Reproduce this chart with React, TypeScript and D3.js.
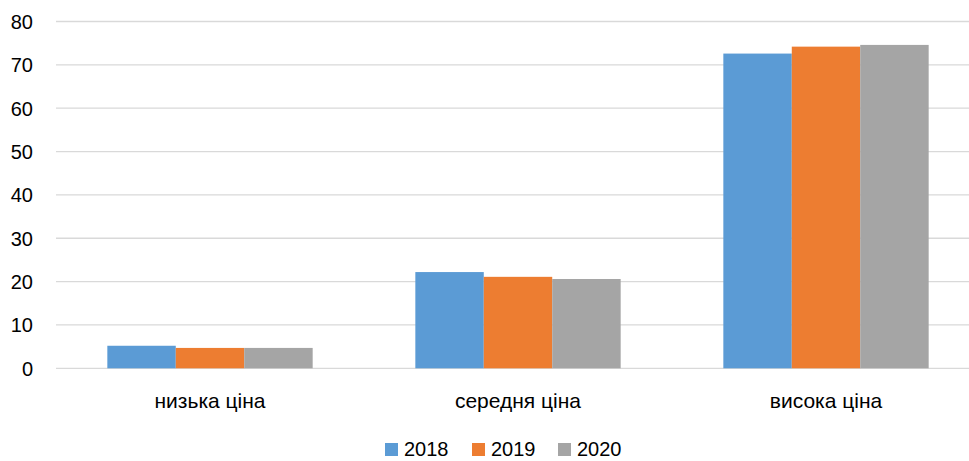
import React from 'react'
import * as d3 from 'd3'

const width = 969
const height = 461

const categories = ['низька ціна', 'середня ціна', 'висока ціна']
const years = ['2018', '2019', '2020']
const values2018 = [5.2, 22.2, 72.6]
const values2019 = [4.7, 21.1, 74.2]
const values2020 = [4.7, 20.6, 74.6]
const yTicks = [0, 10, 20, 30, 40, 50, 60, 70, 80]
const colors = ['#5B9BD5', '#ED7D31', '#A5A5A5']

const series = [values2018, values2019, values2020]

const plot = { left: 56, right: 980, top: 21.5, bottom: 368.3 }
const font = '"Liberation Sans", Arial, sans-serif'

const App = () => {
  const x = d3.scaleBand()
    .domain(categories)
    .range([plot.left, plot.right])
    .paddingInner(0)
    .paddingOuter(0)

  // gap width 150% of a bar, like the source
  const barW = x.bandwidth() / (years.length + 1.5)
  const inner = d3.scaleBand()
    .domain(years)
    .range([0, barW * years.length])

  const y = d3.scaleLinear()
    .domain([0, 80])
    .range([plot.bottom, plot.top])

  const legendX = [385, 472, 558]

  return (
    <svg width={width} height={height} style={{ position: 'absolute', left: 0, top: 0, background: '#fff' }}>
      {yTicks.map(t =>
        <g key={t}>
          <line x1={plot.left} x2={plot.right} y1={y(t)} y2={y(t)} stroke="#D9D9D9" strokeWidth={1.3} />
          <text x={33} y={y(t) + 7.5} textAnchor="end" fontFamily={font} fontSize={20} fill="#000">{t}</text>
        </g>
      )}
      {categories.map((c, ci) => {
        const start = x(c)! + barW * 0.75
        return (
          <g key={c}>
            {years.map((yr, si) =>
              <rect key={yr}
                x={start + inner(yr)!}
                y={y(series[si][ci])}
                width={inner.bandwidth()}
                height={y(0) - y(series[si][ci])}
                fill={colors[si]} />
            )}
            <text x={start + barW * 1.5} y={408} textAnchor="middle" fontFamily={font} fontSize={21} fill="#000">{c}</text>
          </g>
        )
      })}
      {years.map((yr, i) =>
        <g key={yr}>
          <rect x={legendX[i]} y={443} width={13} height={13} fill={colors[i]} />
          <text x={legendX[i] + 19} y={456} fontFamily={font} fontSize={20} fill="#000">{yr}</text>
        </g>
      )}
    </svg>
  )
}

export default App
